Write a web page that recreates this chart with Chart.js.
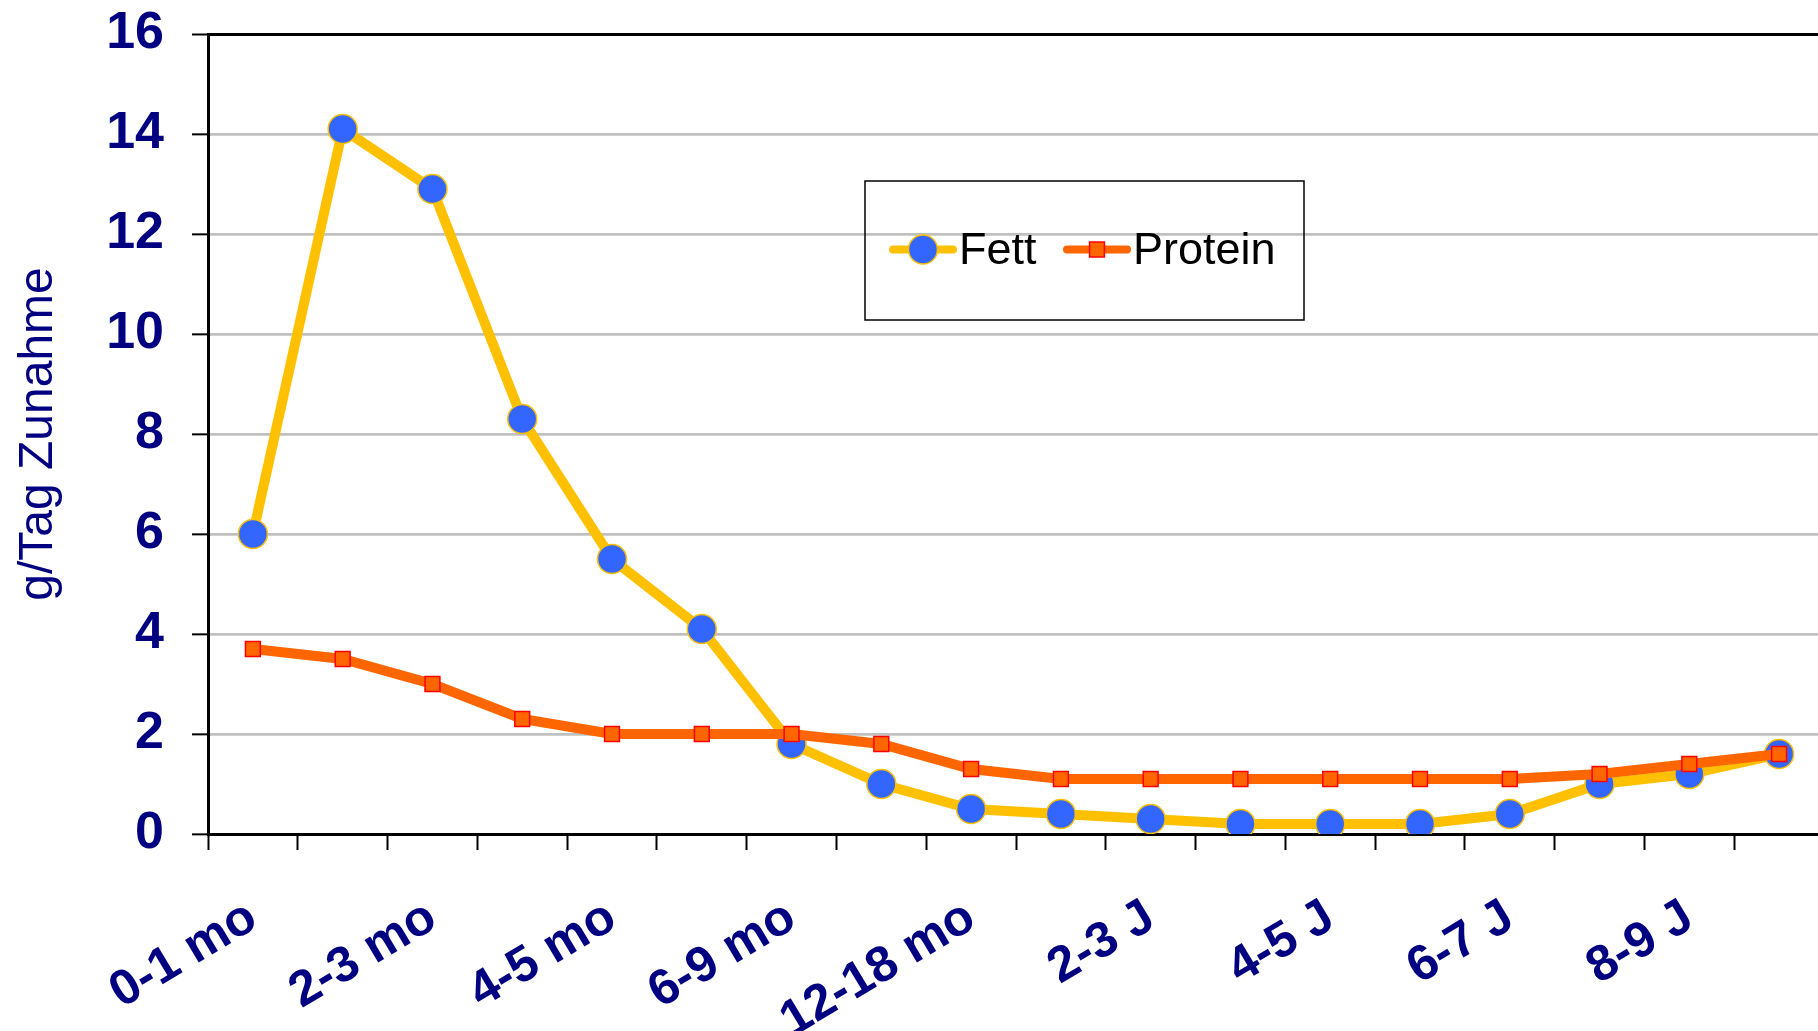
<!DOCTYPE html>
<html>
<head>
<meta charset="utf-8">
<script src="https://cdn.jsdelivr.net/npm/chart.js@4"></script>
<style>
  html, body { margin: 0; padding: 0; background: #fff; overflow: hidden; }
  #wrap { width: 1840px; height: 1031px; }
</style>
</head>
<body>
<div id="wrap"><canvas id="gainChart"></canvas></div>
<script>
const ageGroups = ['0-1 mo', '1-2 mo', '2-3 mo', '3-4 mo', '4-5 mo', '5-6 mo', '6-9 mo', '9-12 mo',
  '12-18 mo', '18-24 mo', '2-3 J', '3-4 J', '4-5 J', '5-6 J', '6-7 J', '7-8 J', '8-9 J', '9-10 J'];
const fett = [6.0, 14.1, 12.9, 8.3, 5.5, 4.1, 1.8, 1.0, 0.5, 0.4, 0.3, 0.2, 0.2, 0.2, 0.4, 1.0, 1.2, 1.6];
const protein = [3.7, 3.5, 3.0, 2.3, 2.0, 2.0, 2.0, 1.8, 1.3, 1.1, 1.1, 1.1, 1.1, 1.1, 1.1, 1.2, 1.4, 1.6];
const yMin = 0, yMax = 16, yStep = 2;

const navy = '#000080';
const fontFam = "'Liberation Sans', Arial, sans-serif";

// legend drawn inside the plot, like the original
const boxLegend = {
  id: 'boxLegend',
  afterDraw(chart) {
    const ctx = chart.ctx;
    const bx = 865, by = 181, bw = 439, bh = 139;
    const cy = by + bh / 2 - 1;
    ctx.save();
    ctx.strokeStyle = '#000';
    ctx.lineWidth = 1.5;
    ctx.strokeRect(bx, by, bw, bh);
    const items = [
      { ds: chart.data.datasets[0], x: 893, textX: 959 },
      { ds: chart.data.datasets[1], x: 1067, textX: 1133 }
    ];
    items.forEach(it => {
      const ds = it.ds;
      ctx.strokeStyle = ds.borderColor;
      ctx.lineWidth = 8;
      ctx.lineCap = 'round';
      ctx.beginPath();
      ctx.moveTo(it.x, cy);
      ctx.lineTo(it.x + 60, cy);
      ctx.stroke();
      ctx.fillStyle = ds.pointBackgroundColor;
      ctx.strokeStyle = ds.pointBorderColor;
      ctx.lineWidth = ds.pointBorderWidth;
      Chart.helpers.drawPoint(ctx, {
        pointStyle: ds.pointStyle,
        radius: ds.pointRadius,
        borderWidth: ds.pointBorderWidth
      }, it.x + 30, cy);
      ctx.fillStyle = '#000';
      ctx.font = '45px ' + fontFam;
      ctx.textBaseline = 'middle';
      ctx.textAlign = 'left';
      ctx.fillText(ds.label, it.textX, cy + 2);
    });
    ctx.restore();
  }
};

new Chart(document.getElementById('gainChart'), {
  type: 'line',
  data: {
    labels: ageGroups,
    datasets: [{
      label: 'Fett',
      data: fett,
      borderColor: '#FFC000',
      borderWidth: 10,
      pointStyle: 'circle',
      pointRadius: 14.5,
      pointHoverRadius: 14.5,
      pointBackgroundColor: '#3366FF',
      pointBorderColor: '#FFC000',
      pointBorderWidth: 1.5,
      tension: 0,
      order: 2
    }, {
      label: 'Protein',
      data: protein,
      borderColor: '#FF6600',
      borderWidth: 10,
      pointStyle: 'rect',
      pointRadius: 10.5,
      pointHoverRadius: 10.5,
      pointBackgroundColor: '#FF6600',
      pointBorderColor: '#FF0000',
      pointBorderWidth: 1.5,
      tension: 0,
      order: 1
    }]
  },
  options: {
    responsive: true,
    maintainAspectRatio: false,
    animation: false,
    layout: { padding: { top: 34, right: 3, left: 0, bottom: 0 } },
    plugins: {
      legend: { display: false },
      tooltip: { enabled: false }
    },
    scales: {
      x: {
        offset: true,
        grid: {
          offset: true,
          drawOnChartArea: false,
          drawTicks: true,
          tickLength: 16,
          tickColor: '#000',
          tickWidth: 2
        },
        border: { color: '#000', width: 3 },
        ticks: {
          autoSkip: false,
          minRotation: 31,
          maxRotation: 31,
          padding: 38,
          color: navy,
          font: { family: fontFam, size: 50, weight: 'bold' },
          callback: function (value, index) {
            return index % 2 === 0 ? this.getLabelForValue(value) : '';
          }
        },
        afterFit(scale) {
          scale.height = 197;
          scale.paddingLeft = 0;
          scale.paddingRight = 0;
        }
      },
      y: {
        min: yMin,
        max: yMax,
        ticks: {
          stepSize: yStep,
          padding: 28,
          color: navy,
          font: { family: fontFam, size: 52, weight: 'bold' }
        },
        grid: {
          color: ctx => ctx.tick && ctx.tick.value === yMax ? '#000' : '#C0C0C0',
          lineWidth: ctx => ctx.tick && ctx.tick.value === yMax ? 3 : 2.7,
          tickColor: '#000',
          tickWidth: 2,
          tickLength: 16
        },
        border: { color: '#000', width: 3 },
        title: {
          display: true,
          text: 'g/Tag Zunahme',
          color: navy,
          font: { family: fontFam, size: 48 },
          padding: { top: 10, bottom: 0 }
        },
        afterFit(scale) {
          scale.width = 208;
          scale.paddingTop = 0;
          scale.paddingBottom = 0;
        }
      }
    }
  },
  plugins: [boxLegend]
});
</script>
</body>
</html>
